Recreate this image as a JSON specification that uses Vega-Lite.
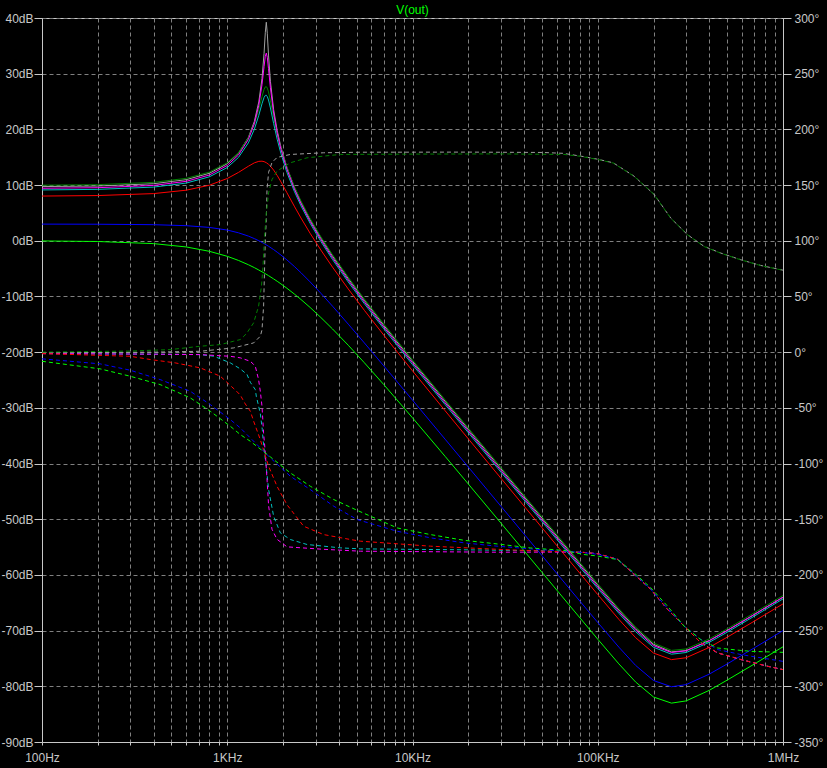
{
"$schema": "https://vega.github.io/schema/vega-lite/v6.json",
"width": 741, "height": 724,
"autosize": {"type": "none"},
"padding": {"left": 42, "top": 18, "right": 44, "bottom": 26},
"background": "#000000",
"config": {"view": {"stroke": "#c8c8c8", "strokeWidth": 1}, "font": "Liberation Sans"},
"title": {"text": "V(out)", "color": "#00ff00", "fontSize": 12, "fontWeight": "normal", "font": "Liberation Sans", "offset": -5, "anchor": "middle"},
"datasets": {
"mag": [
{"c":"gray","f":100,"v":9.73},{"c":"gray","f":200,"v":9.83},{"c":"gray","f":400,"v":10.24},{"c":"gray","f":600,"v":10.97},{"c":"gray","f":800,"v":12.11},{"c":"gray","f":1000,"v":13.83},{"c":"gray","f":1150,"v":15.73},{"c":"gray","f":1300,"v":18.55},{"c":"gray","f":1400,"v":21.42},{"c":"gray","f":1480,"v":24.93},{"c":"gray","f":1540,"v":29.14},{"c":"gray","f":1580,"v":33.64},{"c":"gray","f":1605,"v":37.44},{"c":"gray","f":1625,"v":39.24},{"c":"gray","f":1645,"v":37.26},{"c":"gray","f":1670,"v":33.34},{"c":"gray","f":1710,"v":28.64},{"c":"gray","f":1780,"v":23.55},{"c":"gray","f":1860,"v":19.8},{"c":"gray","f":1950,"v":16.8},{"c":"gray","f":2100,"v":13.16},{"c":"gray","f":2300,"v":9.66},{"c":"gray","f":2500,"v":6.98},{"c":"gray","f":2800,"v":3.81},{"c":"gray","f":3200,"v":0.52},{"c":"gray","f":3700,"v":-2.73},{"c":"gray","f":4500,"v":-6.78},{"c":"gray","f":5500,"v":-10.69},{"c":"gray","f":7000,"v":-15.19},{"c":"gray","f":10000,"v":-21.63},{"c":"gray","f":15000,"v":-28.81},{"c":"gray","f":20000,"v":-33.85},{"c":"gray","f":30000,"v":-40.93},{"c":"gray","f":50000,"v":-49.82},{"c":"gray","f":70000,"v":-55.67},{"c":"gray","f":100000,"v":-61.83},{"c":"gray","f":130000,"v":-66.29},{"c":"gray","f":160000,"v":-69.61},{"c":"gray","f":200000,"v":-72.47},{"c":"gray","f":250000,"v":-73.81},{"c":"gray","f":300000,"v":-73.58},{"c":"gray","f":400000,"v":-71.79},{"c":"gray","f":500000,"v":-69.97},{"c":"gray","f":700000,"v":-67.1},{"c":"gray","f":1000000,"v":-64.0},
{"c":"dkgreen","f":100,"v":9.98},{"c":"dkgreen","f":200,"v":10.08},{"c":"dkgreen","f":400,"v":10.49},{"c":"dkgreen","f":600,"v":11.21},{"c":"dkgreen","f":800,"v":12.33},{"c":"dkgreen","f":1000,"v":14.01},{"c":"dkgreen","f":1150,"v":15.84},{"c":"dkgreen","f":1300,"v":18.48},{"c":"dkgreen","f":1400,"v":20.98},{"c":"dkgreen","f":1480,"v":23.61},{"c":"dkgreen","f":1540,"v":25.88},{"c":"dkgreen","f":1580,"v":27.18},{"c":"dkgreen","f":1605,"v":27.63},{"c":"dkgreen","f":1625,"v":27.68},{"c":"dkgreen","f":1645,"v":27.42},{"c":"dkgreen","f":1670,"v":26.73},{"c":"dkgreen","f":1710,"v":25.15},{"c":"dkgreen","f":1780,"v":22.16},{"c":"dkgreen","f":1860,"v":19.22},{"c":"dkgreen","f":1950,"v":16.57},{"c":"dkgreen","f":2100,"v":13.16},{"c":"dkgreen","f":2300,"v":9.78},{"c":"dkgreen","f":2500,"v":7.14},{"c":"dkgreen","f":2800,"v":4.01},{"c":"dkgreen","f":3200,"v":0.73},{"c":"dkgreen","f":3700,"v":-2.5},{"c":"dkgreen","f":4500,"v":-6.54},{"c":"dkgreen","f":5500,"v":-10.45},{"c":"dkgreen","f":7000,"v":-14.94},{"c":"dkgreen","f":10000,"v":-21.39},{"c":"dkgreen","f":15000,"v":-28.56},{"c":"dkgreen","f":20000,"v":-33.6},{"c":"dkgreen","f":30000,"v":-40.68},{"c":"dkgreen","f":50000,"v":-49.57},{"c":"dkgreen","f":70000,"v":-55.42},{"c":"dkgreen","f":100000,"v":-61.58},{"c":"dkgreen","f":130000,"v":-66.04},{"c":"dkgreen","f":160000,"v":-69.35},{"c":"dkgreen","f":200000,"v":-72.21},{"c":"dkgreen","f":250000,"v":-73.55},{"c":"dkgreen","f":300000,"v":-73.29},{"c":"dkgreen","f":400000,"v":-71.49},{"c":"dkgreen","f":500000,"v":-69.68},{"c":"dkgreen","f":700000,"v":-66.8},{"c":"dkgreen","f":1000000,"v":-63.7},
{"c":"cyan","f":100,"v":9.13},{"c":"cyan","f":200,"v":9.23},{"c":"cyan","f":400,"v":9.64},{"c":"cyan","f":600,"v":10.36},{"c":"cyan","f":800,"v":11.48},{"c":"cyan","f":1000,"v":13.15},{"c":"cyan","f":1150,"v":14.97},{"c":"cyan","f":1300,"v":17.57},{"c":"cyan","f":1400,"v":20.01},{"c":"cyan","f":1480,"v":22.52},{"c":"cyan","f":1540,"v":24.6},{"c":"cyan","f":1580,"v":25.73},{"c":"cyan","f":1605,"v":26.1},{"c":"cyan","f":1625,"v":26.13},{"c":"cyan","f":1645,"v":25.89},{"c":"cyan","f":1670,"v":25.28},{"c":"cyan","f":1710,"v":23.85},{"c":"cyan","f":1780,"v":21.06},{"c":"cyan","f":1860,"v":18.23},{"c":"cyan","f":1950,"v":15.63},{"c":"cyan","f":2100,"v":12.27},{"c":"cyan","f":2300,"v":8.9},{"c":"cyan","f":2500,"v":6.28},{"c":"cyan","f":2800,"v":3.15},{"c":"cyan","f":3200,"v":-0.12},{"c":"cyan","f":3700,"v":-3.36},{"c":"cyan","f":4500,"v":-7.4},{"c":"cyan","f":5500,"v":-11.3},{"c":"cyan","f":7000,"v":-15.8},{"c":"cyan","f":10000,"v":-22.24},{"c":"cyan","f":15000,"v":-29.41},{"c":"cyan","f":20000,"v":-34.45},{"c":"cyan","f":30000,"v":-41.53},{"c":"cyan","f":50000,"v":-50.42},{"c":"cyan","f":70000,"v":-56.27},{"c":"cyan","f":100000,"v":-62.43},{"c":"cyan","f":130000,"v":-66.88},{"c":"cyan","f":160000,"v":-70.18},{"c":"cyan","f":200000,"v":-72.99},{"c":"cyan","f":250000,"v":-74.23},{"c":"cyan","f":300000,"v":-73.93},{"c":"cyan","f":400000,"v":-72.1},{"c":"cyan","f":500000,"v":-70.28},{"c":"cyan","f":700000,"v":-67.4},{"c":"cyan","f":1000000,"v":-64.3},
{"c":"magenta","f":100,"v":9.43},{"c":"magenta","f":200,"v":9.53},{"c":"magenta","f":400,"v":9.94},{"c":"magenta","f":600,"v":10.67},{"c":"magenta","f":800,"v":11.8},{"c":"magenta","f":1000,"v":13.52},{"c":"magenta","f":1150,"v":15.4},{"c":"magenta","f":1300,"v":18.2},{"c":"magenta","f":1400,"v":21.0},{"c":"magenta","f":1480,"v":24.33},{"c":"magenta","f":1540,"v":28.03},{"c":"magenta","f":1580,"v":31.27},{"c":"magenta","f":1605,"v":33.14},{"c":"magenta","f":1625,"v":33.7},{"c":"magenta","f":1645,"v":32.94},{"c":"magenta","f":1670,"v":30.9},{"c":"magenta","f":1710,"v":27.46},{"c":"magenta","f":1780,"v":22.93},{"c":"magenta","f":1860,"v":19.35},{"c":"magenta","f":1950,"v":16.41},{"c":"magenta","f":2100,"v":12.82},{"c":"magenta","f":2300,"v":9.34},{"c":"magenta","f":2500,"v":6.67},{"c":"magenta","f":2800,"v":3.5},{"c":"magenta","f":3200,"v":0.21},{"c":"magenta","f":3700,"v":-3.04},{"c":"magenta","f":4500,"v":-7.08},{"c":"magenta","f":5500,"v":-10.99},{"c":"magenta","f":7000,"v":-15.49},{"c":"magenta","f":10000,"v":-21.93},{"c":"magenta","f":15000,"v":-29.11},{"c":"magenta","f":20000,"v":-34.15},{"c":"magenta","f":30000,"v":-41.23},{"c":"magenta","f":50000,"v":-50.12},{"c":"magenta","f":70000,"v":-55.97},{"c":"magenta","f":100000,"v":-62.13},{"c":"magenta","f":130000,"v":-66.59},{"c":"magenta","f":160000,"v":-69.88},{"c":"magenta","f":200000,"v":-72.69},{"c":"magenta","f":250000,"v":-73.93},{"c":"magenta","f":300000,"v":-73.63},{"c":"magenta","f":400000,"v":-71.8},{"c":"magenta","f":500000,"v":-69.98},{"c":"magenta","f":700000,"v":-67.1},{"c":"magenta","f":1000000,"v":-64.0},
{"c":"red","f":100,"v":8.03},{"c":"red","f":200,"v":8.12},{"c":"red","f":400,"v":8.47},{"c":"red","f":600,"v":9.08},{"c":"red","f":800,"v":9.97},{"c":"red","f":1000,"v":11.18},{"c":"red","f":1150,"v":12.27},{"c":"red","f":1300,"v":13.38},{"c":"red","f":1400,"v":13.99},{"c":"red","f":1480,"v":14.26},{"c":"red","f":1540,"v":14.29},{"c":"red","f":1580,"v":14.21},{"c":"red","f":1625,"v":14.02},{"c":"red","f":1670,"v":13.73},{"c":"red","f":1710,"v":13.4},{"c":"red","f":1780,"v":12.69},{"c":"red","f":1860,"v":11.73},{"c":"red","f":1950,"v":10.57},{"c":"red","f":2100,"v":8.62},{"c":"red","f":2300,"v":6.22},{"c":"red","f":2500,"v":4.09},{"c":"red","f":2800,"v":1.35},{"c":"red","f":3200,"v":-1.66},{"c":"red","f":3700,"v":-4.74},{"c":"red","f":4500,"v":-8.66},{"c":"red","f":5500,"v":-12.5},{"c":"red","f":7000,"v":-16.95},{"c":"red","f":10000,"v":-23.36},{"c":"red","f":15000,"v":-30.52},{"c":"red","f":20000,"v":-35.56},{"c":"red","f":30000,"v":-42.63},{"c":"red","f":50000,"v":-51.52},{"c":"red","f":70000,"v":-57.37},{"c":"red","f":100000,"v":-63.53},{"c":"red","f":130000,"v":-67.98},{"c":"red","f":160000,"v":-71.26},{"c":"red","f":200000,"v":-74.03},{"c":"red","f":250000,"v":-75.21},{"c":"red","f":300000,"v":-74.87},{"c":"red","f":400000,"v":-73.01},{"c":"red","f":500000,"v":-71.18},{"c":"red","f":700000,"v":-68.3},{"c":"red","f":1000000,"v":-65.2},
{"c":"blue","f":100,"v":2.99},{"c":"blue","f":200,"v":2.97},{"c":"blue","f":400,"v":2.89},{"c":"blue","f":600,"v":2.71},{"c":"blue","f":800,"v":2.4},{"c":"blue","f":1000,"v":1.92},{"c":"blue","f":1150,"v":1.43},{"c":"blue","f":1300,"v":0.84},{"c":"blue","f":1400,"v":0.39},{"c":"blue","f":1480,"v":0.01},{"c":"blue","f":1580,"v":-0.5},{"c":"blue","f":1670,"v":-0.98},{"c":"blue","f":1780,"v":-1.59},{"c":"blue","f":1860,"v":-2.05},{"c":"blue","f":1950,"v":-2.57},{"c":"blue","f":2100,"v":-3.44},{"c":"blue","f":2300,"v":-4.6},{"c":"blue","f":2500,"v":-5.73},{"c":"blue","f":2800,"v":-7.38},{"c":"blue","f":3200,"v":-9.42},{"c":"blue","f":3700,"v":-11.74},{"c":"blue","f":4500,"v":-14.97},{"c":"blue","f":5500,"v":-18.35},{"c":"blue","f":7000,"v":-22.47},{"c":"blue","f":10000,"v":-28.61},{"c":"blue","f":15000,"v":-35.63},{"c":"blue","f":20000,"v":-40.62},{"c":"blue","f":30000,"v":-47.66},{"c":"blue","f":50000,"v":-56.53},{"c":"blue","f":70000,"v":-62.38},{"c":"blue","f":100000,"v":-68.54},{"c":"blue","f":130000,"v":-72.97},{"c":"blue","f":160000,"v":-76.24},{"c":"blue","f":200000,"v":-78.96},{"c":"blue","f":250000,"v":-80.08},{"c":"blue","f":300000,"v":-79.7},{"c":"blue","f":400000,"v":-77.81},{"c":"blue","f":500000,"v":-75.98},{"c":"blue","f":700000,"v":-73.1},{"c":"blue","f":1000000,"v":-70.0},
{"c":"green","f":100,"v":-0.03},{"c":"green","f":200,"v":-0.13},{"c":"green","f":400,"v":-0.51},{"c":"green","f":600,"v":-1.11},{"c":"green","f":800,"v":-1.89},{"c":"green","f":1000,"v":-2.79},{"c":"green","f":1150,"v":-3.53},{"c":"green","f":1300,"v":-4.3},{"c":"green","f":1400,"v":-4.82},{"c":"green","f":1480,"v":-5.25},{"c":"green","f":1580,"v":-5.78},{"c":"green","f":1670,"v":-6.26},{"c":"green","f":1780,"v":-6.85},{"c":"green","f":1860,"v":-7.27},{"c":"green","f":1950,"v":-7.75},{"c":"green","f":2100,"v":-8.53},{"c":"green","f":2300,"v":-9.55},{"c":"green","f":2500,"v":-10.54},{"c":"green","f":2800,"v":-11.97},{"c":"green","f":3200,"v":-13.77},{"c":"green","f":3700,"v":-15.83},{"c":"green","f":4500,"v":-18.76},{"c":"green","f":5500,"v":-21.91},{"c":"green","f":7000,"v":-25.83},{"c":"green","f":10000,"v":-31.79},{"c":"green","f":15000,"v":-38.71},{"c":"green","f":20000,"v":-43.66},{"c":"green","f":30000,"v":-50.68},{"c":"green","f":50000,"v":-59.53},{"c":"green","f":70000,"v":-65.37},{"c":"green","f":100000,"v":-71.54},{"c":"green","f":130000,"v":-75.97},{"c":"green","f":160000,"v":-79.22},{"c":"green","f":200000,"v":-81.92},{"c":"green","f":250000,"v":-83.02},{"c":"green","f":300000,"v":-82.62},{"c":"green","f":400000,"v":-80.72},{"c":"green","f":500000,"v":-78.88},{"c":"green","f":700000,"v":-76.0},{"c":"green","f":1000000,"v":-72.9}
],
"ph": [
{"c":"gray","f":100,"v":-0.5},{"c":"gray","f":400,"v":0},{"c":"gray","f":715,"v":0.8},{"c":"gray","f":1082,"v":3.8},{"c":"gray","f":1176,"v":5.3},{"c":"gray","f":1388,"v":8.3},{"c":"gray","f":1508,"v":14.3},{"c":"gray","f":1540,"v":20},{"c":"gray","f":1571,"v":41},{"c":"gray","f":1605,"v":101},{"c":"gray","f":1625,"v":119},{"c":"gray","f":1639,"v":146},{"c":"gray","f":1672,"v":161.5},{"c":"gray","f":1744,"v":170.3},{"c":"gray","f":1856,"v":174.8},{"c":"gray","f":2190,"v":177.5},{"c":"gray","f":3315,"v":179},{"c":"gray","f":5234,"v":179.5},{"c":"gray","f":20000,"v":179.6},{"c":"gray","f":50000,"v":179.3},{"c":"gray","f":65000,"v":178.5},{"c":"gray","f":80900,"v":176},{"c":"gray","f":100000,"v":173.2},{"c":"gray","f":121200,"v":170},{"c":"gray","f":157000,"v":158},{"c":"gray","f":201500,"v":141.6},{"c":"gray","f":248000,"v":120.3},{"c":"gray","f":305400,"v":105.4},{"c":"gray","f":375500,"v":94.9},{"c":"gray","f":462400,"v":88.9},{"c":"gray","f":593000,"v":82.9},{"c":"gray","f":760000,"v":77.8},{"c":"gray","f":1000000,"v":73.6},
{"c":"dkgreen","f":100,"v":0},{"c":"dkgreen","f":300,"v":1},{"c":"dkgreen","f":492,"v":2.3},{"c":"dkgreen","f":715,"v":5.3},{"c":"dkgreen","f":917,"v":6.8},{"c":"dkgreen","f":1082,"v":9.8},{"c":"dkgreen","f":1176,"v":11.3},{"c":"dkgreen","f":1230,"v":14.3},{"c":"dkgreen","f":1278,"v":17.3},{"c":"dkgreen","f":1388,"v":26.3},{"c":"dkgreen","f":1476,"v":41.2},{"c":"dkgreen","f":1530,"v":59.2},{"c":"dkgreen","f":1560,"v":77.1},{"c":"dkgreen","f":1585,"v":101},{"c":"dkgreen","f":1625,"v":125},{"c":"dkgreen","f":1672,"v":143},{"c":"dkgreen","f":1744,"v":155},{"c":"dkgreen","f":1856,"v":162.5},{"c":"dkgreen","f":2190,"v":170},{"c":"dkgreen","f":2697,"v":174.5},{"c":"dkgreen","f":4081,"v":177.5},{"c":"dkgreen","f":10000,"v":177.8},{"c":"dkgreen","f":30000,"v":178},{"c":"dkgreen","f":65730,"v":177.5},{"c":"dkgreen","f":80900,"v":175.8},{"c":"dkgreen","f":100000,"v":173},{"c":"dkgreen","f":121200,"v":169.8},{"c":"dkgreen","f":157000,"v":157.9},{"c":"dkgreen","f":201500,"v":141.5},{"c":"dkgreen","f":248000,"v":120.2},{"c":"dkgreen","f":305400,"v":105.3},{"c":"dkgreen","f":375500,"v":94.8},{"c":"dkgreen","f":462400,"v":88.8},{"c":"dkgreen","f":593000,"v":82.8},{"c":"dkgreen","f":760000,"v":77.7},{"c":"dkgreen","f":1000000,"v":73.5},
{"c":"cyan","f":100,"v":-1.3},{"c":"cyan","f":400,"v":-1.8},{"c":"cyan","f":715,"v":-2.2},{"c":"cyan","f":850,"v":-3.7},{"c":"cyan","f":917,"v":-6},{"c":"cyan","f":1038,"v":-9.6},{"c":"cyan","f":1176,"v":-15},{"c":"cyan","f":1278,"v":-20},{"c":"cyan","f":1332,"v":-27},{"c":"cyan","f":1417,"v":-33.6},{"c":"cyan","f":1435,"v":-39.6},{"c":"cyan","f":1508,"v":-55},{"c":"cyan","f":1546,"v":-69.5},{"c":"cyan","f":1560,"v":-78.5},{"c":"cyan","f":1622,"v":-102.4},{"c":"cyan","f":1672,"v":-123.4},{"c":"cyan","f":1780,"v":-147.3},{"c":"cyan","f":1934,"v":-162.2},{"c":"cyan","f":2190,"v":-168.2},{"c":"cyan","f":2697,"v":-172.7},{"c":"cyan","f":4081,"v":-175.7},{"c":"cyan","f":5234,"v":-176.6},{"c":"cyan","f":20000,"v":-177.5},{"c":"cyan","f":50000,"v":-178.3},{"c":"cyan","f":84330,"v":-179.8},{"c":"cyan","f":100000,"v":-181},{"c":"cyan","f":127800,"v":-186},{"c":"cyan","f":157100,"v":-199.5},{"c":"cyan","f":193400,"v":-213},{"c":"cyan","f":238200,"v":-231},{"c":"cyan","f":292800,"v":-246},{"c":"cyan","f":360400,"v":-261},{"c":"cyan","f":443600,"v":-270},{"c":"cyan","f":593000,"v":-276},{"c":"cyan","f":826000,"v":-282},{"c":"cyan","f":1000000,"v":-285},
{"c":"magenta","f":100,"v":-1.3},{"c":"magenta","f":400,"v":-1.8},{"c":"magenta","f":715,"v":-2.2},{"c":"magenta","f":1038,"v":-3.7},{"c":"magenta","f":1176,"v":-5.1},{"c":"magenta","f":1332,"v":-8.2},{"c":"magenta","f":1388,"v":-11},{"c":"magenta","f":1417,"v":-12.6},{"c":"magenta","f":1476,"v":-24.6},{"c":"magenta","f":1508,"v":-35},{"c":"magenta","f":1540,"v":-48.5},{"c":"magenta","f":1571,"v":-72.5},{"c":"magenta","f":1605,"v":-90.4},{"c":"magenta","f":1639,"v":-114},{"c":"magenta","f":1672,"v":-138},{"c":"magenta","f":1744,"v":-159},{"c":"magenta","f":1856,"v":-168},{"c":"magenta","f":2102,"v":-174.8},{"c":"magenta","f":3315,"v":-177},{"c":"magenta","f":5234,"v":-178.7},{"c":"magenta","f":28700,"v":-179.6},{"c":"magenta","f":65730,"v":-179.5},{"c":"magenta","f":84330,"v":-179.8},{"c":"magenta","f":100000,"v":-181},{"c":"magenta","f":127800,"v":-186},{"c":"magenta","f":157100,"v":-199.5},{"c":"magenta","f":193400,"v":-213},{"c":"magenta","f":238200,"v":-231},{"c":"magenta","f":292800,"v":-246},{"c":"magenta","f":360400,"v":-261},{"c":"magenta","f":443600,"v":-270},{"c":"magenta","f":593000,"v":-276},{"c":"magenta","f":826000,"v":-282},{"c":"magenta","f":1000000,"v":-285},
{"c":"red","f":100,"v":-1.3},{"c":"red","f":299,"v":-3.7},{"c":"red","f":384,"v":-6.6},{"c":"red","f":523,"v":-9.6},{"c":"red","f":715,"v":-14.1},{"c":"red","f":917,"v":-21.6},{"c":"red","f":1105,"v":-34},{"c":"red","f":1176,"v":-38.5},{"c":"red","f":1251,"v":-46.5},{"c":"red","f":1332,"v":-53},{"c":"red","f":1388,"v":-62},{"c":"red","f":1508,"v":-78.5},{"c":"red","f":1672,"v":-102.4},{"c":"red","f":1856,"v":-120.4},{"c":"red","f":2102,"v":-137},{"c":"red","f":2585,"v":-156.3},{"c":"red","f":3315,"v":-163.8},{"c":"red","f":4622,"v":-168.2},{"c":"red","f":5234,"v":-169.7},{"c":"red","f":12513,"v":-174.2},{"c":"red","f":36800,"v":-177.8},{"c":"red","f":84330,"v":-179.8},{"c":"red","f":100000,"v":-181},{"c":"red","f":127800,"v":-186},{"c":"red","f":157100,"v":-199.5},{"c":"red","f":193400,"v":-213},{"c":"red","f":238200,"v":-231},{"c":"red","f":292800,"v":-246},{"c":"red","f":360400,"v":-261},{"c":"red","f":443600,"v":-270},{"c":"red","f":593000,"v":-276},{"c":"red","f":826000,"v":-282},{"c":"red","f":1000000,"v":-285},
{"c":"blue","f":100,"v":-6},{"c":"blue","f":206,"v":-10.5},{"c":"blue","f":299,"v":-16.2},{"c":"blue","f":434,"v":-24.6},{"c":"blue","f":631,"v":-35.1},{"c":"blue","f":809,"v":-47},{"c":"blue","f":1038,"v":-60.5},{"c":"blue","f":1176,"v":-68},{"c":"blue","f":1332,"v":-77},{"c":"blue","f":1708,"v":-94.9},{"c":"blue","f":2190,"v":-111.4},{"c":"blue","f":2809,"v":-123.4},{"c":"blue","f":3755,"v":-138.3},{"c":"blue","f":5025,"v":-150.3},{"c":"blue","f":8267,"v":-160.8},{"c":"blue","f":12513,"v":-166.7},{"c":"blue","f":18940,"v":-171.2},{"c":"blue","f":28700,"v":-174.2},{"c":"blue","f":43430,"v":-176.6},{"c":"blue","f":65730,"v":-178.7},{"c":"blue","f":84330,"v":-180},{"c":"blue","f":100000,"v":-181.5},{"c":"blue","f":127800,"v":-186},{"c":"blue","f":157100,"v":-199},{"c":"blue","f":193400,"v":-213},{"c":"blue","f":238200,"v":-230},{"c":"blue","f":292800,"v":-246},{"c":"blue","f":360400,"v":-258},{"c":"blue","f":443600,"v":-267},{"c":"blue","f":593000,"v":-271.5},{"c":"blue","f":671400,"v":-273},{"c":"blue","f":1000000,"v":-277.6},
{"c":"green","f":100,"v":-8.2},{"c":"green","f":206,"v":-15},{"c":"green","f":299,"v":-21.6},{"c":"green","f":434,"v":-29.1},{"c":"green","f":631,"v":-41},{"c":"green","f":809,"v":-53},{"c":"green","f":1038,"v":-66.5},{"c":"green","f":1176,"v":-74},{"c":"green","f":1332,"v":-80},{"c":"green","f":1708,"v":-94},{"c":"green","f":2190,"v":-108.4},{"c":"green","f":2809,"v":-120.4},{"c":"green","f":3755,"v":-132.3},{"c":"green","f":5025,"v":-142},{"c":"green","f":8267,"v":-157.8},{"c":"green","f":12513,"v":-163.8},{"c":"green","f":18940,"v":-168.9},{"c":"green","f":28700,"v":-172.2},{"c":"green","f":43430,"v":-175.8},{"c":"green","f":65730,"v":-178},{"c":"green","f":84330,"v":-181.7},{"c":"green","f":99600,"v":-183},{"c":"green","f":127800,"v":-186.2},{"c":"green","f":157100,"v":-198.2},{"c":"green","f":193400,"v":-211.6},{"c":"green","f":238200,"v":-228.1},{"c":"green","f":292800,"v":-246.1},{"c":"green","f":360400,"v":-258.1},{"c":"green","f":443600,"v":-265.6},{"c":"green","f":593000,"v":-267.8},{"c":"green","f":671400,"v":-268.6},{"c":"green","f":1000000,"v":-269.5}
]
},
"layer": [
{"data": {"name": "mag"},
 "mark": {"type": "line", "strokeWidth": 1, "clip": true},
 "encoding": {
  "x": {"field": "f", "type": "quantitative",
    "scale": {"type": "log", "domain": [100, 1000000]},
    "axis": {"title": null, "values": [100,200,300,400,500,600,700,800,900,1000,2000,3000,4000,5000,6000,7000,8000,9000,10000,20000,30000,40000,50000,60000,70000,80000,90000,100000,200000,300000,400000,500000,600000,700000,800000,900000,1000000],
      "labelExpr": "datum.value == 100 ? '100Hz' : datum.value == 1000 ? '1KHz' : datum.value == 10000 ? '10KHz' : datum.value == 100000 ? '100KHz' : datum.value == 1000000 ? '1MHz' : ''",
      "labelOverlap": false, "labelFlush": false, "grid": true, "gridDash": [4, 3], "gridColor": "#808080", "gridWidth": 1,
      "domainColor": "#c8c8c8", "tickColor": "#c8c8c8", "tickSize": 3, "labelColor": "#c8c8c8", "labelFontSize": 12, "labelFont": "Liberation Sans", "labelPadding": 7}},
  "y": {"field": "v", "type": "quantitative",
    "scale": {"domain": [-90, 40], "nice": false, "zero": false},
    "axis": {"title": null, "values": [-90,-80,-70,-60,-50,-40,-30,-20,-10,0,10,20,30,40],
      "labelExpr": "datum.value + 'dB'", "labelOverlap": false, "labelFlush": false,
      "grid": true, "gridDash": [4, 3], "gridColor": "#808080", "gridWidth": 1,
      "domainColor": "#c8c8c8", "tickColor": "#c8c8c8", "tickSize": 8, "labelColor": "#c8c8c8", "labelFontSize": 12, "labelFont": "Liberation Sans", "labelPadding": 1}},
  "color": {"field": "c", "type": "nominal",
    "scale": {"domain": ["gray","dkgreen","cyan","magenta","red","blue","green"], "range": ["#a0a0a0","#008000","#00bfbf","#ff00ff","#ff0000","#0000ff","#00ff00"]},
    "legend": null}
 }},
{"data": {"name": "ph"},
 "mark": {"type": "line", "strokeWidth": 1, "strokeDash": [4, 3], "clip": true},
 "encoding": {
  "x": {"field": "f", "type": "quantitative", "scale": {"type": "log", "domain": [100, 1000000]}},
  "y": {"field": "v", "type": "quantitative",
    "scale": {"domain": [-350, 300], "nice": false, "zero": false},
    "axis": {"title": null, "orient": "right", "values": [-350,-300,-250,-200,-150,-100,-50,0,50,100,150,200,250,300],
      "labelExpr": "datum.value + '°'", "labelOverlap": false, "labelFlush": false, "grid": false,
      "domainColor": "#c8c8c8", "tickColor": "#c8c8c8", "tickSize": 8, "labelColor": "#c8c8c8", "labelFontSize": 12, "labelFont": "Liberation Sans", "labelPadding": 3}},
  "color": {"field": "c", "type": "nominal", "legend": null}
 }}
],
"resolve": {"scale": {"y": "independent"}}
}
